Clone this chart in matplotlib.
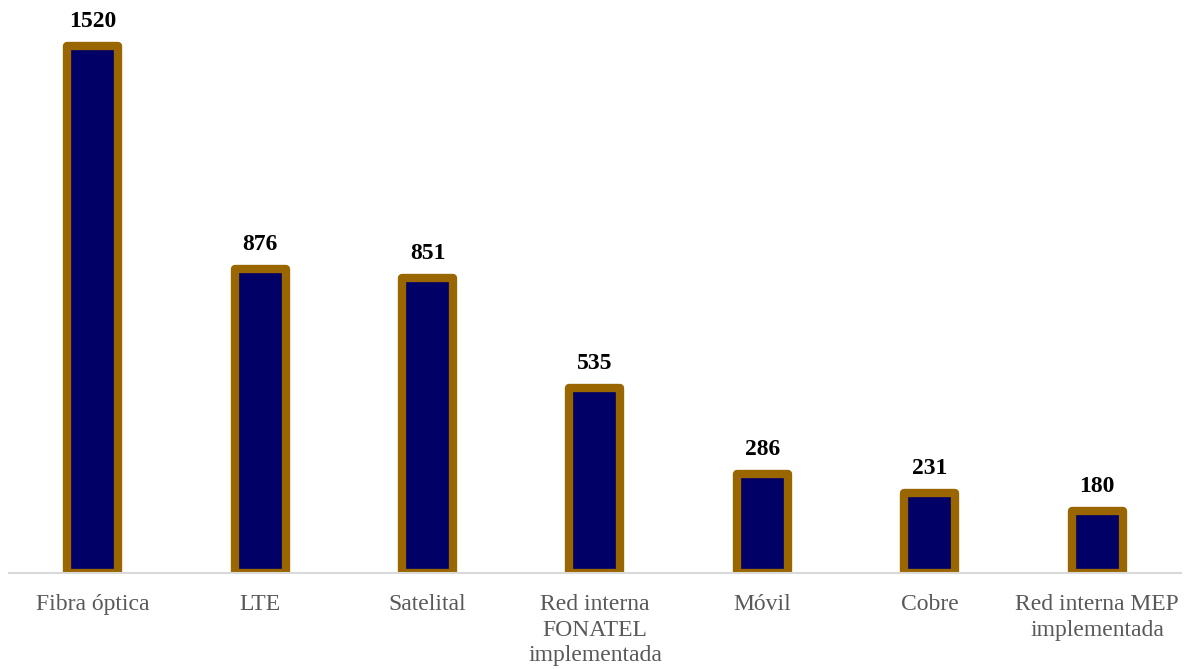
import matplotlib
matplotlib.use('agg')
import matplotlib.pyplot as plt  # noqa

categories = ['Fibra óptica', 'LTE', 'Satelital', 'Red interna\nFONATEL\nimplementada',
              'Móvil', 'Cobre', 'Red interna MEP\nimplementada']
values = [1520, 876, 851, 535, 286, 231, 180]

plt.rcParams['font.family'] = ['Liberation Serif', 'DejaVu Serif']

fig = plt.figure(figsize=(11.88, 6.69), dpi=100)
ax = fig.add_axes([0.0076, 0.1435, 0.9864, 0.8565])

x = range(len(categories))
bars = ax.bar(x, values, width=0.305, color='#000066', edgecolor='#996600',
              linewidth=6, joinstyle='round', zorder=2)

for xi, v in zip(x, values):
    ax.annotate(str(v), (xi, v), xytext=(0, 10), textcoords='offset points',
                ha='center', va='bottom', fontsize=17, fontweight='bold', color='black')

ax.set_xlim(-0.5, len(categories) - 0.5)
ax.set_ylim(0, 1653)
ax.set_xticks(list(x))
ax.set_xticklabels(categories, fontsize=17, color='#595959', linespacing=1.3)
ax.tick_params(axis='x', length=0, pad=15)
ax.set_yticks([])
for side in ['top', 'left', 'right']:
    ax.spines[side].set_visible(False)
ax.spines['bottom'].set_color('#d9d9d9')
ax.spines['bottom'].set_linewidth(1.5)
ax.spines['bottom'].set_zorder(3)

fig.savefig('out.png', dpi=100)
